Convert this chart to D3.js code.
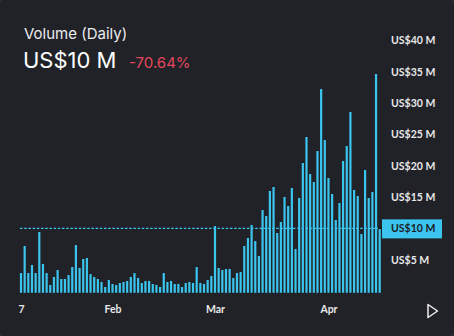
<!DOCTYPE html>
<html><head><meta charset="utf-8">
<script src="https://cdn.jsdelivr.net/npm/d3@7"></script>
<style>
html,body{margin:0;padding:0;background:#2b2d33;}
svg{display:block;}
</style></head>
<body>
<script>
const startDate = "2023-01-07";
const volumes = [2.87,7.19,2.87,4.15,2.87,9.42,4.31,2.87,0.96,2.24,3.35,1.92,1.92,2.55,3.83,7.34,3.67,5.11,5.27,2.71,2.24,1.92,1.44,0.64,1.76,1.12,0.96,1.28,1.44,1.60,2.24,2.87,2.08,1.28,1.60,1.60,1.12,0.96,0.64,2.87,1.44,1.60,1.12,1.12,0.64,1.28,1.44,1.28,3.83,1.28,1.12,1.76,2.40,10.38,3.67,3.35,3.51,3.51,2.08,2.87,3.03,7.19,8.46,10.54,7.98,5.59,12.93,11.98,15.97,16.61,9.26,11.02,15.01,13.57,16.45,6.71,14.85,20.44,24.59,18.68,17.40,22.35,32.25,24.11,18.04,15.49,11.34,14.05,20.76,23.15,28.58,16.13,15.17,9.10,19.32,14.85,15.81,34.65,10.06];
const yTicks = [5,10,15,20,25,30,35,40];
const xTickDates = ["2023-01-07","2023-02-01","2023-03-01","2023-04-01"];
const xTickLabels = ["7","Feb","Mar","Apr"];
const currentValue = 10;
const title = "Volume (Daily)";
const headline = "US$10 M";
const change = "-70.64%";

const W = 454, H = 336;
const parse = d3.utcParse("%Y-%m-%d");
const t0 = parse(startDate);
const data = volumes.map((v,i)=>({date:d3.utcDay.offset(t0,i), v}));

const svg = d3.select("body").append("svg").attr("width",W).attr("height",H);
svg.append("rect").attr("x",0).attr("y",0).attr("width",W).attr("height",H).attr("rx",5).attr("fill","#202227");

const x = d3.scaleUtc().domain([data[0].date, data[data.length-1].date]).range([21, 379.7]);
const y = d3.scaleLinear().domain([0,40]).range([291,40.5]);
const bottom = 292.8;

svg.append("g").selectAll("rect").data(data).join("rect")
  .attr("x", d=>x(d.date)-1.1).attr("width",2.2)
  .attr("y", d=>y(d.v)).attr("height", d=>bottom-y(d.v))
  .attr("fill","#3ac4ee");

// dotted current line
svg.append("line").attr("x1",20).attr("x2",378).attr("y1",y(currentValue)).attr("y2",y(currentValue))
  .attr("stroke","#3ac4ee").attr("stroke-width",1.2).attr("stroke-dasharray","2.5,1.7");
svg.append("line").attr("x1",378).attr("x2",383).attr("y1",y(currentValue)).attr("y2",y(currentValue))
  .attr("stroke","#111").attr("stroke-width",1.2);

// y axis
const ya = svg.append("g").attr("transform","translate(383,0)")
  .call(d3.axisRight(y).tickValues(yTicks).tickSize(0).tickPadding(8).tickFormat(d=>"US$"+d+" M"));
ya.select(".domain").remove();
ya.selectAll("text").attr("fill","#e8e8ea").attr("font-family","Lato, 'Open Sans', sans-serif")
  .attr("font-weight","700").attr("font-size","10.5px")
  .filter(d=>d===currentValue).attr("fill","#1d2026");
// highlight box
ya.selectAll(".tick").filter(d=>d===currentValue).insert("rect","text")
  .attr("x",-1).attr("y",-9.5).attr("width",60).attr("height",19).attr("fill","#3ac4ee");

// x axis
const xa = svg.append("g").attr("transform","translate(0,300)")
  .call(d3.axisBottom(x).tickValues(xTickDates.map(parse)).tickSize(0).tickPadding(6)
    .tickFormat((d,i)=>xTickLabels[i]));
xa.select(".domain").remove();
xa.selectAll("text").attr("fill","#e8e8ea").attr("font-family","Lato, 'Open Sans', sans-serif")
  .attr("font-weight","700").attr("font-size","10.5px");

// header
svg.append("text").attr("x",24).attr("y",39).text(title)
  .attr("fill","#ececee").attr("font-family","Inter, sans-serif").attr("font-size","15px");
svg.append("text").attr("x",23).attr("y",68).text(headline)
  .attr("fill","#ffffff").attr("font-family","Inter, sans-serif").attr("font-size","22px");
svg.append("text").attr("x",129).attr("y",68).text(change)
  .attr("fill","#e5475e").attr("font-family","Inter, sans-serif").attr("font-size","15px");

// play icon
svg.append("path").attr("d",d3.line()([[428,304.5],[437.5,311],[428,317.5]])+"Z")
  .attr("fill","none").attr("stroke","#f0f0f0").attr("stroke-width",1.5).attr("stroke-linejoin","round");
</script>
</body></html>
